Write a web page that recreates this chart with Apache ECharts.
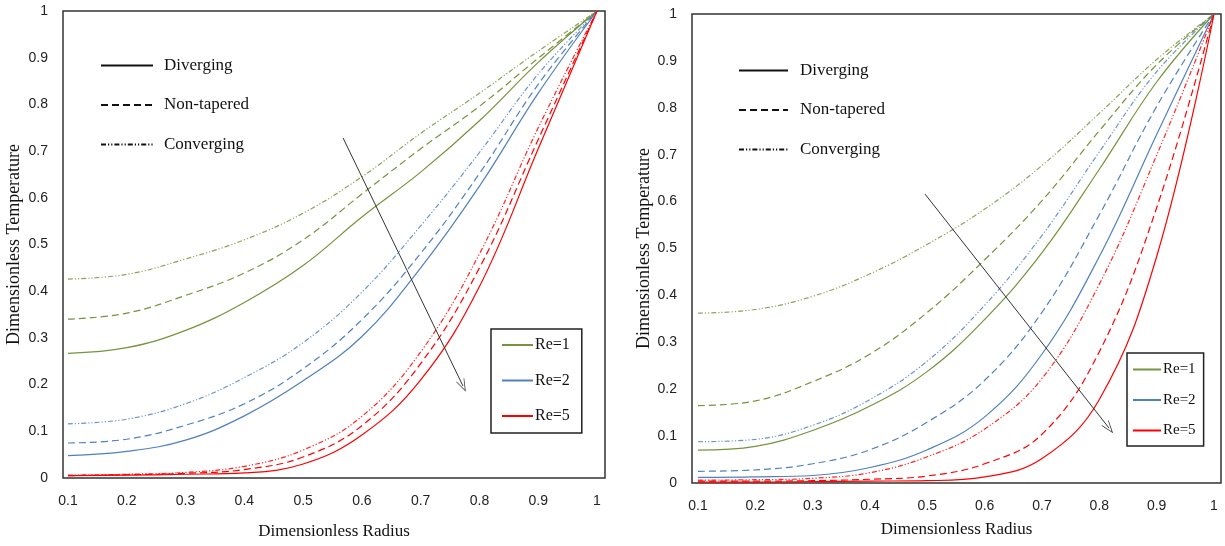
<!DOCTYPE html>
<html>
<head>
<meta charset="utf-8">
<script src="https://cdn.jsdelivr.net/npm/echarts@6/dist/echarts.min.js"></script>
<style>
  html, body { margin: 0; padding: 0; background: #fff; }
  #chart { width: 1225px; height: 546px; }
</style>
</head>
<body>
<div id="chart"></div>
<script>
// Radial positions shared by every curve
const radius = [0.1, 0.2, 0.3, 0.4, 0.5, 0.6, 0.7, 0.8, 0.9, 1.0];
const radiusTicks = [0.1, 0.2, 0.3, 0.4, 0.5, 0.6, 0.7, 0.8, 0.9, 1.0];

// Left panel: temperature profiles
const leftDivRe1 = [0.267, 0.279, 0.316, 0.376, 0.455, 0.559, 0.655, 0.765, 0.890, 1.0];
const leftNonRe1 = [0.340, 0.353, 0.391, 0.439, 0.510, 0.608, 0.705, 0.796, 0.899, 1.0];
const leftConRe1 = [0.426, 0.436, 0.469, 0.510, 0.567, 0.645, 0.738, 0.824, 0.914, 1.0];
const leftDivRe2 = [0.048, 0.057, 0.081, 0.133, 0.208, 0.303, 0.450, 0.625, 0.824, 1.0];
const leftNonRe2 = [0.075, 0.083, 0.113, 0.159, 0.234, 0.339, 0.481, 0.652, 0.843, 1.0];
const leftConRe2 = [0.116, 0.126, 0.159, 0.215, 0.290, 0.398, 0.540, 0.697, 0.865, 1.0];
const leftDivRe5 = [0.005, 0.006, 0.008, 0.011, 0.030, 0.092, 0.210, 0.410, 0.705, 1.0];
const leftNonRe5 = [0.005, 0.007, 0.010, 0.018, 0.045, 0.112, 0.245, 0.450, 0.725, 1.0];
const leftConRe5 = [0.006, 0.008, 0.012, 0.025, 0.060, 0.132, 0.270, 0.480, 0.750, 1.0];

// Right panel: temperature profiles
const rightDivRe1 = [0.070, 0.078, 0.112, 0.164, 0.238, 0.349, 0.491, 0.669, 0.855, 1.0];
const rightNonRe1 = [0.165, 0.175, 0.216, 0.275, 0.364, 0.476, 0.602, 0.751, 0.892, 1.0];
const rightConRe1 = [0.362, 0.370, 0.398, 0.446, 0.509, 0.584, 0.677, 0.788, 0.903, 1.0];
const rightDivRe2 = [0.012, 0.013, 0.016, 0.033, 0.071, 0.141, 0.275, 0.483, 0.743, 1.0];
const rightNonRe2 = [0.025, 0.028, 0.041, 0.071, 0.130, 0.219, 0.364, 0.572, 0.803, 1.0];
const rightConRe2 = [0.088, 0.093, 0.123, 0.178, 0.260, 0.379, 0.528, 0.706, 0.877, 1.0];
const rightDivRe5 = [0.002, 0.002, 0.003, 0.004, 0.005, 0.013, 0.052, 0.178, 0.483, 1.0];
const rightNonRe5 = [0.004, 0.004, 0.005, 0.008, 0.015, 0.041, 0.104, 0.280, 0.587, 1.0];
const rightConRe5 = [0.006, 0.007, 0.010, 0.022, 0.056, 0.115, 0.223, 0.424, 0.699, 1.0];

// Arrow showing the direction of increasing Re: [startX, startY, endX, endY]
const leftArrow = [0.568, 0.728, 0.772, 0.197];
const rightArrow = [0.496, 0.616, 0.817, 0.117];

const shapeNames = ['Diverging', 'Non-tapered', 'Converging'];
const reNames = ['Re=1', 'Re=2', 'Re=5'];

const GREEN = '#77933C', BLUE = '#4F81BD', RED = '#FF0000';
const SERIF = '"Liberation Serif", "Times New Roman", serif';
const SANS = '"Liberation Sans", Arial, sans-serif';

const dashStyle = {
  Diverging: 'solid',
  'Non-tapered': [7, 4],
  Converging: [5, 2, 1.2, 2, 1.2, 2]
};

const chevron = 'path://M0,10 L5,0 L10,10 L9.2,10 L5,1.8 L0.8,10 Z';

function curve(name, values, color, shape, idx, arrow) {
  const s = {
    name: name,
    type: 'line',
    xAxisIndex: idx,
    yAxisIndex: idx,
    data: radius.map((r, i) => [r, values[i]]),
    smooth: 0.4,
    symbol: 'none',
    silent: true,
    lineStyle: { color: color, width: 1.2, type: dashStyle[shape], opacity: shape === 'Converging' ? 0.85 : 1 },
    z: 3
  };
  if (arrow) {
    s.markLine = {
      silent: true,
      symbol: ['none', chevron],
      symbolSize: [9, 13],
      label: { show: false },
      lineStyle: { color: '#333', width: 1, type: 'solid' },
      data: [[{ coord: [arrow[0], arrow[1]] }, { coord: [arrow[2], arrow[3]] }]]
    };
  }
  return s;
}

function legendEntry(name, color, type, idx) {
  return {
    name: name, type: 'line', xAxisIndex: idx, yAxisIndex: idx, data: [],
    symbol: 'none', itemStyle: { color: color, opacity: 0 },
    lineStyle: { color: color, width: 1.3, type: type }
  };
}

function panelAxes(idx, min, max, nameGap, yNameGap) {
  return {
    x: {
      type: 'value', gridIndex: idx, min: min, max: max,
      name: 'Dimensionless Radius', nameLocation: 'middle', nameGap: nameGap,
      nameTextStyle: { fontFamily: SERIF, fontSize: 17, color: '#111' },
      axisLine: { show: false }, axisTick: { show: false }, splitLine: { show: false },
      axisLabel: { customValues: radiusTicks, margin: 16, fontFamily: SANS, fontSize: 14, color: '#222' }
    },
    y: {
      type: 'value', gridIndex: idx, min: 0, max: 1, interval: 0.1,
      name: 'Dimensionless Temperature', nameLocation: 'middle', nameGap: yNameGap,
      nameTextStyle: { fontFamily: SERIF, fontSize: 18, color: '#111' },
      axisLine: { show: false }, axisTick: { show: false }, splitLine: { show: false },
      axisLabel: { margin: 15, fontFamily: SANS, fontSize: 14, color: '#222' }
    }
  };
}

const leftAxes = panelAxes(0, 0.0915, 1.0136, 45, 40);
const rightAxes = panelAxes(1, 0.0895, 1.0122, 38, 38);

const series = [
  curve('L Div Re1', leftDivRe1, GREEN, 'Diverging', 0, leftArrow),
  curve('L Non Re1', leftNonRe1, GREEN, 'Non-tapered', 0),
  curve('L Con Re1', leftConRe1, GREEN, 'Converging', 0),
  curve('L Div Re2', leftDivRe2, BLUE, 'Diverging', 0),
  curve('L Non Re2', leftNonRe2, BLUE, 'Non-tapered', 0),
  curve('L Con Re2', leftConRe2, BLUE, 'Converging', 0),
  curve('L Div Re5', leftDivRe5, RED, 'Diverging', 0),
  curve('L Non Re5', leftNonRe5, RED, 'Non-tapered', 0),
  curve('L Con Re5', leftConRe5, RED, 'Converging', 0),
  curve('R Div Re1', rightDivRe1, GREEN, 'Diverging', 1, rightArrow),
  curve('R Non Re1', rightNonRe1, GREEN, 'Non-tapered', 1),
  curve('R Con Re1', rightConRe1, GREEN, 'Converging', 1),
  curve('R Div Re2', rightDivRe2, BLUE, 'Diverging', 1),
  curve('R Non Re2', rightNonRe2, BLUE, 'Non-tapered', 1),
  curve('R Con Re2', rightConRe2, BLUE, 'Converging', 1),
  curve('R Div Re5', rightDivRe5, RED, 'Diverging', 1),
  curve('R Non Re5', rightNonRe5, RED, 'Non-tapered', 1),
  curve('R Con Re5', rightConRe5, RED, 'Converging', 1),
  legendEntry('Diverging', '#111', dashStyle.Diverging, 0),
  legendEntry('Non-tapered', '#111', dashStyle['Non-tapered'], 0),
  legendEntry('Converging', '#111', dashStyle.Converging, 0),
  legendEntry('Re=1', GREEN, 'solid', 0),
  legendEntry('Re=2', BLUE, 'solid', 0),
  legendEntry('Re=5', RED, 'solid', 0)
];

function shapeLegend(left, top, width, textPad) {
  return {
    data: shapeNames, orient: 'vertical', left: left, top: top, padding: 0,
    itemWidth: width, itemHeight: 14, itemGap: 22.5, selectedMode: false,
    itemStyle: { opacity: 0 },
    textStyle: { fontFamily: SERIF, fontSize: 17, color: '#111', padding: [0, 0, 0, textPad] }
  };
}

function reLegend(left, top, iconW, gap, pad, fontSize) {
  return {
    data: reNames, orient: 'vertical', left: left, top: top, padding: pad,
    itemWidth: iconW, itemHeight: 14, itemGap: gap, selectedMode: false,
    itemStyle: { opacity: 0 },
    borderColor: '#222', borderWidth: 1.5, backgroundColor: '#fff',
    textStyle: { fontFamily: SERIF, fontSize: fontSize, color: '#111', padding: [0, 0, 0, -3] }
  };
}

const option = {
  animation: false,
  backgroundColor: '#fff',
  grid: [
    { left: 63, top: 11, width: 542, height: 467, show: true, borderColor: '#333', borderWidth: 1.5, backgroundColor: 'transparent' },
    { left: 692, top: 14, width: 529, height: 469, show: true, borderColor: '#333', borderWidth: 1.5, backgroundColor: 'transparent' }
  ],
  xAxis: [leftAxes.x, rightAxes.x],
  yAxis: [leftAxes.y, rightAxes.y],
  legend: [
    shapeLegend(100, 57, 52, 6),
    shapeLegend(738, 62, 49, 7),
    reLegend(491, 329, 31, 19.5, [8, 12, 9, 10], 16),
    reLegend(1127, 353, 28, 15.5, [9, 8, 8, 5], 15)
  ],
  series: series
};

const chart = echarts.init(document.getElementById('chart'), null, { renderer: 'canvas' });
chart.setOption(option);
</script>
</body>
</html>
